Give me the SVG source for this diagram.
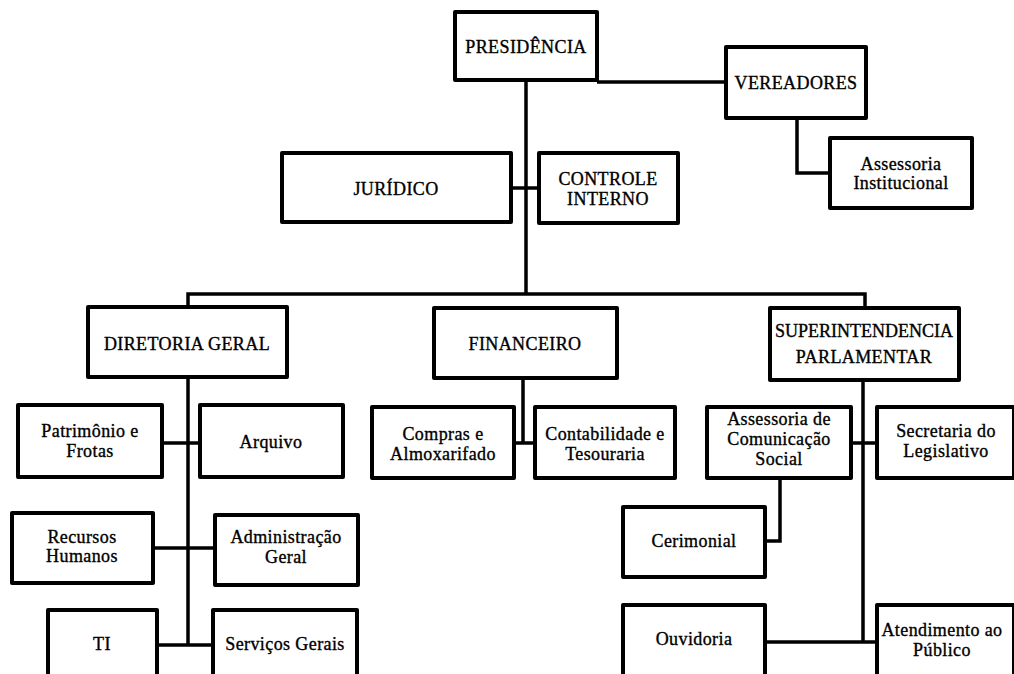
<svg xmlns="http://www.w3.org/2000/svg" width="1014" height="674" viewBox="0 0 1014 674">
<style>
.box{fill:#fff;stroke:#000;stroke-width:4;stroke-linejoin:round}
.ln{fill:none;stroke:#000;stroke-width:3.5}
text{font-family:"Liberation Serif","Times New Roman",serif;font-size:18px;fill:#000;stroke:#000;stroke-width:0.35;letter-spacing:0.4px;text-anchor:middle}
.tight{letter-spacing:0}
</style>
<rect width="1014" height="674" fill="#fff"/>
<g id="connectors">
<path class="ln" d="M526,80V294M597,82H726"/>
<path class="ln" d="M797,118V173H830"/>
<path class="ln" d="M511,188H539"/>
<path class="ln" d="M188,307V294H865V308"/>
<path class="ln" d="M188,377V645M162,443H200M153,548H215M157,645H213"/>
<path class="ln" d="M523,378V443M514,443H535"/>
<path class="ln" d="M863,380V642M851,443H877M765,642H877"/>
<path class="ln" d="M780,478V541H765"/>
</g>
<g id="presidencia"><rect class="box" x="455" y="12" width="142" height="68"/><text x="526" y="53">PRESIDÊNCIA</text></g>
<g id="vereadores"><rect class="box" x="726" y="47" width="140" height="71"/><text x="796" y="89">VEREADORES</text></g>
<g id="assessoria-institucional"><rect class="box" x="830" y="138" width="142" height="70"/><text x="901" y="170">Assessoria</text><text x="901" y="189">Institucional</text></g>
<g id="juridico"><rect class="box" x="282" y="153" width="229" height="69"/><text x="396" y="195">JURÍDICO</text></g>
<g id="controle-interno"><rect class="box" x="539" y="153" width="139" height="70"/><text x="608" y="185">CONTROLE</text><text x="608" y="205">INTERNO</text></g>
<g id="diretoria-geral"><rect class="box" x="88" y="307" width="199" height="70"/><text x="187" y="350">DIRETORIA GERAL</text></g>
<g id="financeiro"><rect class="box" x="434" y="308" width="183" height="70"/><text x="525" y="350">FINANCEIRO</text></g>
<g id="superintendencia"><rect class="box" x="770" y="308" width="189" height="72"/><text class="tight" x="864" y="337">SUPERINTENDENCIA</text><text x="864" y="363">PARLAMENTAR</text></g>
<g id="patrimonio"><rect class="box" x="18" y="405" width="144" height="72"/><text x="90" y="437">Patrimônio e</text><text x="90" y="457">Frotas</text></g>
<g id="arquivo"><rect class="box" x="200" y="405" width="143" height="72"/><text x="271" y="448">Arquivo</text></g>
<g id="compras"><rect class="box" x="372" y="407" width="142" height="71"/><text x="443" y="440">Compras e</text><text x="443" y="460">Almoxarifado</text></g>
<g id="contabilidade"><rect class="box" x="535" y="407" width="140" height="71"/><text x="605" y="440">Contabilidade e</text><text x="605" y="460">Tesouraria</text></g>
<g id="assessoria-comunicacao"><rect class="box" x="707" y="407" width="144" height="71"/><text x="779" y="425">Assessoria de</text><text x="779" y="445">Comunicação</text><text x="779" y="465">Social</text></g>
<g id="secretaria"><rect class="box" x="877" y="407" width="137" height="71"/><text x="946" y="437">Secretaria do</text><text x="946" y="457">Legislativo</text></g>
<g id="recursos-humanos"><rect class="box" x="12" y="513" width="141" height="70"/><text x="82" y="543">Recursos</text><text x="82" y="562">Humanos</text></g>
<g id="administracao"><rect class="box" x="215" y="515" width="143" height="70"/><text x="286" y="543">Administração</text><text x="286" y="563">Geral</text></g>
<g id="cerimonial"><rect class="box" x="623" y="507" width="142" height="70"/><text x="694" y="547">Cerimonial</text></g>
<g id="ti"><rect class="box" x="48" y="610" width="109" height="72"/><text x="102" y="650">TI</text></g>
<g id="servicos"><rect class="box" x="213" y="610" width="144" height="72"/><text x="285" y="650">Serviços Gerais</text></g>
<g id="ouvidoria"><rect class="box" x="623" y="605" width="142" height="77"/><text x="694" y="645">Ouvidoria</text></g>
<g id="atendimento"><rect class="box" x="877" y="605" width="137" height="77"/><text x="942" y="636">Atendimento ao</text><text x="942" y="656">Público</text></g>
</svg>
